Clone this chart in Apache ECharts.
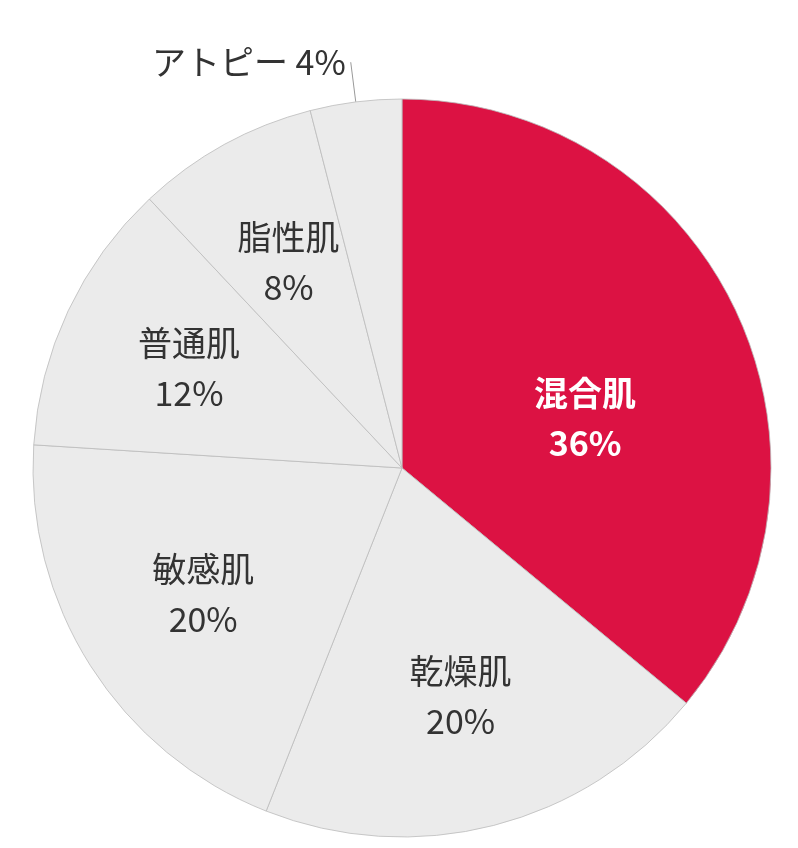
<!DOCTYPE html><html><head><meta charset="utf-8"><script src="https://cdn.jsdelivr.net/npm/echarts@6/dist/echarts.min.js"></script></head><body style="margin:0"><div id="c" style="width:798px;height:848px"></div><script>
const categories=['混合肌','乾燥肌','敏感肌','普通肌','脂性肌','アトピー'];
const values=[36,20,20,12,8,4];
const colors=['#DC1243','#EBEBEB','#EBEBEB','#EBEBEB','#EBEBEB','#EBEBEB'];
const ch=echarts.init(document.getElementById('c'));
const font='"Noto Sans CJK JP", sans-serif';
ch.setOption({animation:false,series:[
{type:'pie',radius:[0,369],center:[402,468],startAngle:90,clockwise:true,
 itemStyle:{borderColor:'#bbb',borderWidth:0.8},
 label:{show:false},labelLine:{show:false},
 data:categories.map((n,i)=>({name:n,value:values[i],itemStyle:{color:colors[i]},
  label:i===5?{show:true,position:'outside',formatter:'{b} {c}%',fontSize:34,color:'#333',fontFamily:font}:{show:false},
  labelLine:i===5?{show:true,length:40,length2:0,lineStyle:{color:'#999',width:1}}:{show:false}}))},
{type:'pie',radius:[96,369],center:[402,468],startAngle:90,clockwise:true,silent:true,
 itemStyle:{color:'transparent',borderWidth:0},labelLine:{show:false},
 label:{position:'inside',formatter:'{b}\n{c}%',fontSize:34,lineHeight:50,color:'#333',fontFamily:font},
 data:categories.map((n,i)=>({name:n,value:values[i],
  label:i===0?{color:'#fff',fontWeight:'bold',offset:[-30,50]}:(i===5?{show:false}:{})}))}
]});
</script></body></html>
